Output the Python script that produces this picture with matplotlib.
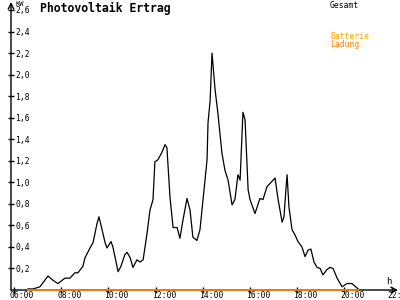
import matplotlib
matplotlib.use("Agg")
import matplotlib.pyplot as plt
import matplotlib.transforms as mtrans

# hours of day -> kW
hours = [6.59, 6.81, 7.10, 7.44, 7.65, 7.86, 8.16, 8.37, 8.58, 8.71, 8.92,
         9.01, 9.22, 9.35, 9.52, 9.60, 9.73, 9.86, 9.94, 10.11, 10.19, 10.41,
         10.53, 10.70, 10.79, 10.92, 11.04, 11.21, 11.34, 11.47, 11.64, 11.76,
         11.89, 11.97, 12.10, 12.27, 12.40, 12.48, 12.61, 12.74, 12.91, 13.03,
         13.16, 13.33, 13.46, 13.58, 13.75, 13.88, 14.01, 14.18, 14.22, 14.31,
         14.39, 14.52, 14.64, 14.81, 14.94, 15.07, 15.24, 15.36, 15.49, 15.58,
         15.70, 15.79, 15.92, 16.00, 16.13, 16.21, 16.30, 16.42, 16.55, 16.72,
         16.85, 17.06, 17.19, 17.36, 17.44, 17.53, 17.57, 17.65, 17.78, 17.91,
         18.03, 18.20, 18.33, 18.46, 18.58, 18.71, 18.84, 18.97, 19.09, 19.26,
         19.39, 19.52, 19.69, 19.90, 20.11, 20.32, 20.58]
gesamt = [0.01, 0.01, 0.03, 0.13, 0.09, 0.06, 0.11, 0.11, 0.16, 0.16, 0.22,
          0.30, 0.39, 0.44, 0.62, 0.68, 0.56, 0.44, 0.39, 0.45, 0.40, 0.17,
          0.22, 0.33, 0.35, 0.30, 0.21, 0.28, 0.26, 0.28, 0.53, 0.74,
          0.84, 1.19, 1.21, 1.28, 1.35, 1.32, 0.86, 0.58, 0.58, 0.48,
          0.65, 0.85, 0.74, 0.49, 0.46, 0.56, 0.84, 1.21, 1.55, 1.76,
          2.20, 1.86, 1.64, 1.27, 1.11, 1.02, 0.79, 0.84, 1.07, 1.02,
          1.65, 1.58, 0.93, 0.84, 0.76, 0.71, 0.77, 0.85, 0.84, 0.96,
          0.99, 1.04, 0.84, 0.63, 0.68, 0.96, 1.07, 0.77, 0.56, 0.51,
          0.45, 0.40, 0.31, 0.37, 0.38, 0.26, 0.21, 0.20, 0.14, 0.19,
          0.21, 0.20, 0.11, 0.03, 0.06, 0.06, 0.01]
ladung_hours = [6.59, 20.58]
ladung = [0.0, 0.0]

xticks = [6, 8, 10, 12, 14, 16, 18, 20, 22]
xlabels = ["06:00", "08:00", "10:00", "12:00", "14:00", "16:00", "18:00",
           "20:00", "22:00"]
yticks = [0.2, 0.4, 0.6, 0.8, 1.0, 1.2, 1.4, 1.6, 1.8, 2.0, 2.2, 2.4, 2.6]
ylabels = [f"{v:.1f}".replace(".", ",") for v in yticks]

MONO = "DejaVu Sans Mono"
ORANGE = "#ff8000"
GOLD = "#ffa800"

fig = plt.figure(figsize=(4, 3), dpi=100)
ax = fig.add_axes([11 / 400, 10 / 300, 387 / 400, 288 / 300])
ax.set_xlim(5.873, 22.27)
ax.set_ylim(0, 2.674)

ax.plot(hours, gesamt, color="black", lw=0.9, zorder=3)

for s in ax.spines.values():
    s.set_visible(False)
# axes with arrow heads
for tip in [(1, 0), (0, 1)]:
    ax.annotate("", xy=tip, xytext=(0, 0), xycoords="axes fraction",
                arrowprops=dict(arrowstyle="->", lw=1, color="black",
                                shrinkA=0, shrinkB=0), zorder=2)
ax.plot(ladung_hours, ladung, color=ORANGE, lw=1.3, zorder=4, clip_on=False)

ax.set_yticks(yticks)
ax.set_yticklabels(ylabels, fontsize=5.8, family=MONO, ha="left")
ax.tick_params(axis="y", direction="inout", length=4.5, width=1, pad=-5.2)
ax.set_xticks(xticks)
ax.set_xticklabels(xlabels, fontsize=5.8, family=MONO, ha="left")
ax.tick_params(axis="x", direction="inout", length=4.5, width=1, pad=-1.8)
off = mtrans.ScaledTranslation(-4 / 100, 0, fig.dpi_scale_trans)
for lab in ax.get_xticklabels():
    lab.set_transform(lab.get_transform() + off)

fig.text(40 / 400, 1 - 2 / 300, "Photovoltaik Ertrag", fontsize=8.3,
         family=MONO, weight="bold", va="top", ha="left")
fig.text(15 / 400, 1 - 1 / 300, "KW", fontsize=5, family=MONO,
         va="top", ha="left")
fig.text(386 / 400, 1 - 277 / 300, "h", fontsize=6.5, family=MONO,
         va="top", ha="left")
fig.text(330 / 400, 1 - 1 / 300, "Gesamt", fontsize=5.8, family=MONO,
         va="top", ha="left", color="black")
fig.text(330 / 400, 1 - 32 / 300, "Batterie", fontsize=5.8, family=MONO,
         va="top", ha="left", color=GOLD)
fig.text(330 / 400, 1 - 40 / 300, "Ladung", fontsize=5.8, family=MONO,
         va="top", ha="left", color=ORANGE)

fig.savefig("out.png", dpi=100)
